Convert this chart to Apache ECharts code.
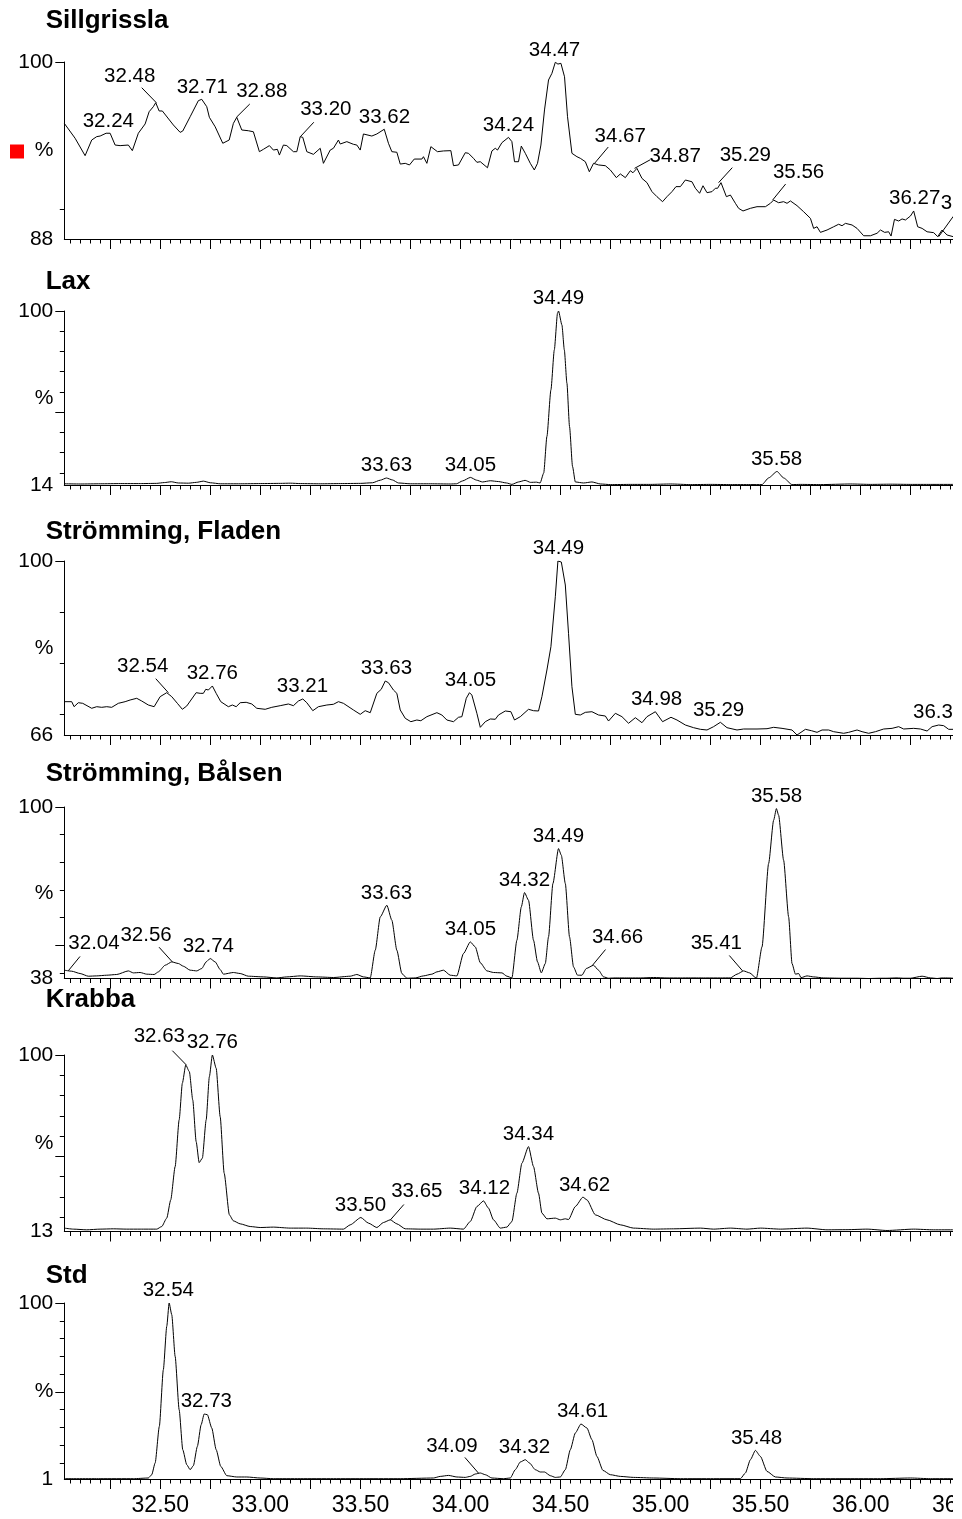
<!DOCTYPE html>
<html>
<head>
<meta charset="utf-8">
<script src="https://cdn.jsdelivr.net/npm/echarts@6.0.0/dist/echarts.min.js"></script>
<style>
html,body{margin:0;padding:0;background:#fff;}
#chart{width:962px;height:1519px;}
</style>
</head>
<body>
<div id="chart"></div>
<script>
// ---------------- DATA ----------------
const panelNames = ['Sillgrissla', 'Lax', 'Strömming, Fladen', 'Strömming, Bålsen', 'Krabba', 'Std'];
const panelMins = [88, 14, 66, 38, 13, 1];
const panelMax = 100;

const xLabelValues = [32.5, 33.0, 33.5, 34.0, 34.5, 35.0, 35.5, 36.0, 36.5];
const xTickLabels = ['32.50', '33.00', '33.50', '34.00', '34.50', '35.00', '35.50', '36.00', '36.50'];

const sillgrisslaTrace = [
[32.020,95.84],[32.074,94.83],[32.124,93.65],[32.157,94.71],[32.182,94.94],[32.199,94.98],[32.229,95.17],[32.249,95.17],[32.274,94.37],[32.299,94.33],[32.340,94.37],[32.360,93.99],[32.390,95.17],[32.424,95.80],[32.444,96.63],[32.465,96.97],[32.477,97.24],[32.494,96.68],[32.510,96.68],[32.565,95.73],[32.599,95.23],[32.612,95.32],[32.649,96.29],[32.690,97.38],[32.707,97.47],[32.732,96.97],[32.745,96.25],[32.774,95.61],[32.812,94.49],[32.844,94.71],[32.865,95.84],[32.882,96.25],[32.907,95.39],[32.940,95.34],[32.965,95.27],[32.995,93.92],[33.015,94.08],[33.045,94.33],[33.065,94.03],[33.085,94.08],[33.095,93.69],[33.115,94.37],[33.132,94.33],[33.165,93.92],[33.182,93.92],[33.199,94.94],[33.212,94.89],[33.232,93.92],[33.265,93.74],[33.299,94.15],[33.315,93.13],[33.349,94.03],[33.365,94.15],[33.390,94.71],[33.399,94.44],[33.432,94.60],[33.465,94.42],[33.482,94.37],[33.499,94.03],[33.515,95.12],[33.557,94.98],[33.582,95.12],[33.619,95.44],[33.640,94.49],[33.657,93.92],[33.682,93.88],[33.699,93.08],[33.724,93.13],[33.745,93.02],[33.769,93.42],[33.807,93.42],[33.815,93.58],[33.832,93.13],[33.852,94.26],[33.885,93.92],[33.915,93.97],[33.952,93.99],[33.965,92.97],[33.990,93.02],[34.024,93.85],[34.040,93.81],[34.065,93.47],[34.082,93.20],[34.099,93.24],[34.135,92.83],[34.157,93.97],[34.174,94.15],[34.185,94.03],[34.207,94.53],[34.240,94.89],[34.257,94.60],[34.270,93.24],[34.290,93.24],[34.304,94.30],[34.324,93.81],[34.349,93.13],[34.369,92.68],[34.385,93.13],[34.402,94.37],[34.420,96.75],[34.440,98.78],[34.457,99.23],[34.474,99.98],[34.487,99.86],[34.502,99.91],[34.520,99.00],[34.535,96.29],[34.557,93.81],[34.582,93.58],[34.599,93.47],[34.624,93.24],[34.644,92.56],[34.665,93.13],[34.690,93.02],[34.724,92.97],[34.749,92.68],[34.779,92.16],[34.799,92.41],[34.824,92.16],[34.849,92.63],[34.862,92.49],[34.882,92.79],[34.907,92.11],[34.932,91.82],[34.957,91.21],[34.982,90.87],[35.010,90.53],[35.032,90.87],[35.057,91.21],[35.077,91.55],[35.099,91.55],[35.124,92.00],[35.157,91.88],[35.174,91.44],[35.195,91.10],[35.212,91.61],[35.232,91.14],[35.257,91.21],[35.274,91.44],[35.285,91.44],[35.302,91.82],[35.329,90.87],[35.349,90.98],[35.374,90.42],[35.390,90.08],[35.412,89.90],[35.449,90.08],[35.482,90.19],[35.524,90.19],[35.549,90.42],[35.565,90.64],[35.590,90.46],[35.615,90.53],[35.632,90.42],[35.649,90.58],[35.682,90.26],[35.715,89.85],[35.749,89.40],[35.765,88.72],[35.782,88.83],[35.799,88.45],[35.832,88.61],[35.865,88.83],[35.890,89.00],[35.907,88.90],[35.924,89.06],[35.957,88.95],[35.982,88.72],[36.015,88.22],[36.049,88.22],[36.082,88.39],[36.099,88.61],[36.120,88.45],[36.140,88.49],[36.152,88.20],[36.169,89.33],[36.190,89.22],[36.207,89.36],[36.224,89.29],[36.249,89.56],[36.265,89.90],[36.285,88.83],[36.307,88.72],[36.332,88.49],[36.365,88.43],[36.385,88.16],[36.407,88.61],[36.432,88.27],[36.462,88.16]
];

const laxTrace = [
[32.020,14.6],[32.100,14.5],[32.200,14.6],[32.300,14.7],[32.400,14.7],[32.480,14.8],[32.520,15.2],[32.555,15.6],[32.590,15.0],[32.640,14.9],[32.680,15.3],[32.715,15.9],[32.750,15.1],[32.800,14.6],[32.900,14.6],[33.000,14.7],[33.100,14.8],[33.150,14.9],[33.200,14.7],[33.300,14.6],[33.400,14.7],[33.500,14.8],[33.560,15.1],[33.600,16.4],[33.630,17.45],[33.660,16.5],[33.690,15.0],[33.750,14.6],[33.850,14.6],[33.950,14.5],[33.980,14.6],[34.010,16.0],[34.050,17.75],[34.080,16.4],[34.110,15.5],[34.149,16.1],[34.190,15.7],[34.230,15.0],[34.257,14.3],[34.290,15.5],[34.323,16.3],[34.350,15.3],[34.380,15.4],[34.398,15.0],[34.416,19.9],[34.432,38.0],[34.452,61.0],[34.469,80.8],[34.485,98.9],[34.490,100],[34.507,93.1],[34.519,80.8],[34.532,64.3],[34.545,42.9],[34.560,23.2],[34.574,15.5],[34.615,15.0],[34.657,15.5],[34.700,14.5],[34.750,14.2],[34.850,14.3],[34.950,14.3],[35.050,14.5],[35.150,14.2],[35.250,14.3],[35.350,14.2],[35.450,14.2],[35.507,14.2],[35.540,17.5],[35.582,20.7],[35.615,17.5],[35.657,14.2],[35.700,14.3],[35.800,14.2],[35.950,14.5],[36.050,14.3],[36.150,14.4],[36.250,14.3],[36.350,14.3],[36.462,14.3]
];

const fladenTrace = [
[32.020,72.51],[32.057,72.51],[32.069,71.53],[32.090,72.31],[32.112,72.19],[32.157,71.22],[32.182,71.53],[32.207,71.41],[32.232,71.53],[32.257,71.41],[32.290,72.19],[32.324,72.51],[32.349,72.84],[32.382,73.17],[32.407,72.64],[32.440,71.86],[32.469,71.53],[32.499,73.49],[32.532,74.27],[32.557,73.49],[32.585,72.19],[32.610,71.02],[32.632,71.67],[32.679,74.27],[32.699,74.14],[32.715,74.14],[32.727,74.93],[32.740,74.79],[32.760,75.58],[32.779,74.14],[32.802,72.51],[32.840,71.53],[32.860,71.86],[32.879,71.53],[32.899,72.31],[32.929,72.39],[32.957,72.06],[32.982,71.22],[33.024,71.02],[33.057,71.41],[33.099,71.73],[33.140,72.06],[33.165,71.73],[33.190,72.64],[33.212,73.04],[33.232,72.31],[33.262,70.75],[33.290,71.53],[33.332,71.86],[33.365,72.00],[33.390,72.51],[33.415,72.19],[33.465,70.89],[33.499,70.04],[33.524,70.75],[33.549,70.36],[33.582,74.14],[33.604,74.93],[33.624,76.55],[33.640,76.22],[33.665,74.79],[33.682,74.14],[33.699,70.89],[33.724,69.26],[33.752,68.60],[33.782,68.93],[33.802,68.79],[33.832,69.58],[33.882,70.36],[33.907,69.91],[33.932,68.93],[33.965,68.60],[33.990,69.46],[34.007,69.58],[34.029,73.17],[34.045,74.27],[34.057,73.80],[34.082,70.24],[34.099,67.50],[34.124,68.60],[34.149,69.13],[34.174,69.07],[34.190,69.91],[34.224,70.69],[34.252,70.55],[34.270,68.93],[34.299,69.58],[34.340,71.02],[34.365,70.75],[34.390,70.69],[34.407,73.49],[34.432,78.70],[34.452,83.25],[34.474,93.02],[34.487,100],[34.504,99.80],[34.524,95.31],[34.540,85.87],[34.557,75.44],[34.574,70.04],[34.599,69.91],[34.624,70.43],[34.657,70.55],[34.690,69.91],[34.724,69.71],[34.740,68.73],[34.774,70.24],[34.807,69.58],[34.840,68.29],[34.874,69.38],[34.907,68.40],[34.932,69.58],[34.974,70.55],[35.010,68.60],[35.052,69.46],[35.082,68.93],[35.124,67.95],[35.165,67.43],[35.199,67.11],[35.232,66.98],[35.265,67.63],[35.299,68.48],[35.332,67.43],[35.382,66.98],[35.415,67.17],[35.482,67.17],[35.532,67.23],[35.565,67.50],[35.607,67.30],[35.657,66.98],[35.682,66.00],[35.724,67.11],[35.754,66.84],[35.782,66.52],[35.807,66.98],[35.840,66.98],[35.865,66.65],[35.915,66.33],[35.940,66.52],[35.982,66.98],[36.007,66.65],[36.040,66.33],[36.074,66.65],[36.115,67.17],[36.157,67.30],[36.190,67.63],[36.215,67.17],[36.265,67.30],[36.299,67.17],[36.332,66.78],[36.357,67.63],[36.390,67.95],[36.415,67.82],[36.440,67.11],[36.462,67.11]
];

const balsenTrace = [
[32.020,41.0],[32.057,40.64],[32.099,39.80],[32.140,38.83],[32.182,38.94],[32.232,39.19],[32.282,39.45],[32.340,40.75],[32.365,40.03],[32.399,40.17],[32.432,39.56],[32.469,39.45],[32.490,40.39],[32.524,42.8],[32.557,44.0],[32.590,43.42],[32.615,42.44],[32.649,41.0],[32.682,40.75],[32.707,41.61],[32.729,44.0],[32.749,45.22],[32.774,44.0],[32.799,41.25],[32.815,39.56],[32.865,40.17],[32.899,39.80],[32.940,38.83],[33.015,38.58],[33.082,38.2],[33.132,38.58],[33.199,38.94],[33.282,38.58],[33.365,38.36],[33.449,38.83],[33.482,39.45],[33.515,38.58],[33.549,38.22],[33.574,48.23],[33.599,60.26],[33.632,64.48],[33.657,59.06],[33.682,48.23],[33.707,39.8],[33.732,38.1],[33.774,38.2],[33.815,38.94],[33.857,39.56],[33.882,40.39],[33.915,41.0],[33.949,39.19],[33.982,38.94],[34.015,47.03],[34.049,51.23],[34.074,49.42],[34.099,43.7],[34.132,40.75],[34.165,40.17],[34.207,40.03],[34.232,38.83],[34.257,38.22],[34.282,51.84],[34.304,63.87],[34.320,69.07],[34.340,66.29],[34.365,51.84],[34.385,44.0],[34.404,40.03],[34.424,43.42],[34.440,53.03],[34.462,72.33],[34.490,84.97],[34.504,82.55],[34.524,72.33],[34.545,53.03],[34.565,42.2],[34.585,39.19],[34.607,39.19],[34.629,41.61],[34.665,42.8],[34.690,41.0],[34.715,38.58],[34.740,38.1],[34.765,38.2],[34.849,38.2],[34.899,38.2],[34.965,38.36],[35.032,38.2],[35.099,38.2],[35.149,38.22],[35.232,38.2],[35.299,38.2],[35.349,38.22],[35.382,39.56],[35.415,40.75],[35.445,40.03],[35.479,38.1],[35.507,49.42],[35.540,79.55],[35.565,95.19],[35.579,99.42],[35.590,97.0],[35.615,80.74],[35.640,60.26],[35.657,43.42],[35.674,39.56],[35.690,39.8],[35.702,38.3],[35.732,38.94],[35.765,38.58],[35.815,38.2],[35.899,38.1],[35.982,38.1],[36.040,38.0],[36.099,38.1],[36.132,38.1],[36.182,38.22],[36.215,38.1],[36.249,38.1],[36.307,38.83],[36.349,38.22],[36.382,38.0],[36.407,38.2],[36.440,38.2],[36.462,38.1]
];

const krabbaTrace = [
[32.020,14.67],[32.065,14.17],[32.132,13.83],[32.199,14.17],[32.265,14.32],[32.332,14.17],[32.399,14.17],[32.482,14.17],[32.507,15.45],[32.532,19.59],[32.552,28.6],[32.574,45.0],[32.594,68.0],[32.610,86.07],[32.627,95.08],[32.645,91.78],[32.662,77.84],[32.679,57.31],[32.694,46.97],[32.710,49.14],[32.729,68.0],[32.745,89.31],[32.760,100],[32.779,93.45],[32.799,69.62],[32.819,41.75],[32.845,21.22],[32.865,18.26],[32.899,16.78],[32.949,15.45],[32.999,14.96],[33.065,15.16],[33.149,14.67],[33.232,14.67],[33.315,14.32],[33.415,14.17],[33.449,16.29],[33.502,19.89],[33.540,17.13],[33.582,14.96],[33.615,17.43],[33.649,18.76],[33.682,16.78],[33.724,14.32],[33.799,14.17],[33.865,14.17],[33.949,14.67],[34.015,14.17],[34.049,17.92],[34.082,25.30],[34.115,28.1],[34.140,24.52],[34.165,18.76],[34.199,14.67],[34.232,15.16],[34.257,17.92],[34.282,31.9],[34.307,46.67],[34.340,54.85],[34.365,45.0],[34.390,31.9],[34.407,22.05],[34.432,19.25],[34.474,19.59],[34.499,18.76],[34.524,19.25],[34.540,18.9],[34.574,25.30],[34.612,29.93],[34.632,28.6],[34.674,21.22],[34.732,18.76],[34.799,16.29],[34.865,14.67],[34.965,14.17],[35.065,14.32],[35.199,14.67],[35.265,14.17],[35.349,14.67],[35.432,14.17],[35.499,14.67],[35.599,14.17],[35.732,14.67],[35.832,13.83],[35.932,13.9],[36.032,14.17],[36.132,13.5],[36.265,14.17],[36.365,13.83],[36.462,13.83]
];

const stdTrace = [
[32.020,1.17],[32.199,1.17],[32.365,1.17],[32.440,1.56],[32.457,3.42],[32.474,10.0],[32.495,30.59],[32.515,62.48],[32.532,86.84],[32.544,100],[32.557,93.42],[32.574,69.96],[32.594,39.98],[32.612,17.48],[32.632,9.04],[32.649,6.23],[32.665,8.48],[32.685,19.34],[32.704,31.54],[32.719,37.56],[32.735,37.17],[32.757,29.69],[32.779,17.48],[32.802,8.09],[32.832,2.86],[32.882,2.13],[32.932,2.13],[32.999,1.56],[33.065,1.17],[33.199,1.17],[33.365,1.17],[33.532,1.17],[33.699,1.17],[33.865,1.56],[33.899,2.46],[33.940,3.02],[33.982,2.13],[34.024,1.9],[34.049,2.46],[34.074,3.81],[34.099,4.38],[34.124,3.42],[34.157,1.56],[34.215,1.17],[34.249,1.56],[34.274,6.23],[34.299,10.56],[34.324,11.86],[34.345,10.0],[34.374,6.23],[34.399,4.94],[34.420,4.94],[34.449,2.86],[34.474,1.9],[34.499,2.13],[34.524,6.23],[34.549,17.48],[34.574,26.87],[34.602,31.94],[34.632,29.69],[34.657,23.11],[34.682,13.71],[34.712,5.84],[34.749,3.42],[34.799,2.46],[34.865,1.9],[34.965,1.56],[35.099,1.17],[35.265,1.17],[35.399,1.17],[35.424,4.38],[35.449,11.86],[35.474,17.09],[35.499,13.71],[35.532,5.28],[35.574,2.13],[35.632,1.56],[35.765,1.17],[35.932,1.17],[36.099,1.17],[36.249,1.56],[36.349,1.17],[36.462,1.17]
];

// peak annotations: [retention time, intensity]
const sillgrisslaPeaks = [[32.24,95.17],[32.48,97.24],[32.71,97.47],[32.88,96.25],[33.20,94.94],[33.62,95.44],[34.24,94.89],[34.47,99.98],[34.67,93.13],[34.87,92.79],[35.29,91.82],[35.56,90.64],[36.27,89.90],[36.39,88.16]];
const laxPeaks = [[33.63,17.45],[34.05,17.75],[34.49,100],[35.58,20.7]];
const fladenPeaks = [[32.54,74.27],[32.76,75.58],[33.21,73.04],[33.63,76.55],[34.05,74.27],[34.49,100],[34.98,70.55],[35.29,68.48],[36.39,67.95]];
const balsenPeaks = [[32.04,40.8],[32.56,44.0],[32.74,45.22],[33.63,64.48],[34.05,51.23],[34.32,69.07],[34.49,84.97],[34.66,42.8],[35.41,40.75],[35.58,99.42]];
const krabbaPeaks = [[32.63,95.08],[32.76,100],[33.50,19.89],[33.65,18.76],[34.12,28.1],[34.34,54.85],[34.62,29.93]];
const stdPeaks = [[32.54,100],[32.73,37.56],[34.09,4.3],[34.32,11.86],[34.61,31.94],[35.48,17.09]];

const traces = [sillgrisslaTrace, laxTrace, fladenTrace, balsenTrace, krabbaTrace, stdTrace];
const peaks = [sillgrisslaPeaks, laxPeaks, fladenPeaks, balsenPeaks, krabbaPeaks, stdPeaks];

// ---------------- LAYOUT / STYLE ----------------
const FONT = "'Liberation Sans', Arial, Helvetica, sans-serif";
const X_MIN = 32.02, X_MAX = 36.5;
const GRID_LEFT = 64.3, GRID_WIDTH = 896.4;
const gridTops = [62, 311, 561, 807, 1055, 1303];
const gridHeights = [177, 174, 174, 171.5, 176.5, 176];
const titleY = [21, 282, 531.5, 774, 1000, 1276];
const smoothing = [false, 0.2, false, 0.2, 0.2, 0.2];
// label offset from peak [dx, dy] and optional leader start relative to label centre [lx, ly]
const leaderLayout = {
  '0|32.48': [-26.6, -26, 12, 11],
  '0|32.88': [25.4, -26.3, -12, 13],
  '0|33.20': [25.4, -27.4, -12, 13],
  '0|34.67': [25.7, -27.3, -12, 11],
  '0|34.87': [40.7, -11.6, -25, 3],
  '0|35.29': [26.7, -27, -13, 12],
  '0|35.56': [26, -28, -13, 12],
  '0|36.39': [27.7, -33.4, -13, 13],
  '2|32.54': [-25.6, -26, 13, 12],
  '3|32.04': [25.7, -27.3, -14, 13],
  '3|32.56': [-26.3, -26.7, 13, 12],
  '3|34.66': [25, -27.7, -12, 12],
  '3|35.41': [-26.3, -27.4, 13, 12],
  '4|32.63': [-27, -28.3, 13, 14],
  '4|33.65': [26.4, -28.3, -13, 13],
  '5|34.09': [-26.6, -26.7, 13, 11]
};

const r2 = v => Math.round(v * 100) / 100;
const majorX = [];
for (let v = 32.25; v <= X_MAX + 1e-9; v += 0.25) majorX.push(r2(v));
const minorX = [];
for (let v = 32.05; v <= X_MAX + 1e-9; v += 0.05) minorX.push(r2(v));

const grids = [], xAxes = [], yAxes = [], series = [];
for (let i = 0; i < 6; i++) {
  const mn = panelMins[i];
  const mid = (mn + panelMax) / 2;
  grids.push({ left: GRID_LEFT, top: gridTops[i], width: GRID_WIDTH, height: gridHeights[i],
               containLabel: false, outerBoundsMode: 'none' });
  xAxes.push({
    gridIndex: i, type: 'value', position: 'bottom', min: X_MIN, max: X_MAX,
    axisLine: { show: true, onZero: false, lineStyle: { color: '#000', width: 1 } },
    axisTick: { show: true, inside: false, length: 10, customValues: majorX, lineStyle: { color: '#000', width: 1 } },
    axisLabel: {
      show: i === 5, customValues: xLabelValues, margin: 15, hideOverlap: false,
      fontSize: 23, fontFamily: FONT, color: '#000',
      formatter: v => { const k = xLabelValues.findIndex(t => Math.abs(t - v) < 1e-6); return k >= 0 ? xTickLabels[k] : ''; }
    },
    splitLine: { show: false }
  });
  xAxes.push({
    gridIndex: i, type: 'value', position: 'bottom', offset: 0, min: X_MIN, max: X_MAX,
    axisLine: { show: false, onZero: false },
    axisTick: { show: true, inside: false, length: 4.5, customValues: minorX, lineStyle: { color: '#000', width: 1 } },
    axisLabel: { show: false },
    splitLine: { show: false }
  });
  const majorY = [50, 100].filter(v => v > mn);
  const minorY = [10, 20, 30, 40, 60, 70, 80, 90].filter(v => v > mn);
  yAxes.push({
    gridIndex: i, type: 'value', position: 'left', min: mn, max: panelMax,
    axisLine: { show: true, onZero: false, lineStyle: { color: '#000', width: 1 } },
    axisTick: { show: true, inside: false, length: 9, customValues: majorY, lineStyle: { color: '#000', width: 1 } },
    axisLabel: {
      show: true, customValues: [mn, mid, panelMax], margin: 11,
      fontSize: 21, fontFamily: FONT, color: '#000',
      formatter: v => Math.abs(v - mid) < 1e-6 ? '%' : String(Math.round(v))
    },
    splitLine: { show: false }
  });
  yAxes.push({
    gridIndex: i, type: 'value', position: 'left', offset: 0, min: mn, max: panelMax,
    axisLine: { show: false, onZero: false },
    axisTick: { show: true, inside: false, length: 4.5, customValues: minorY, lineStyle: { color: '#000', width: 1 } },
    axisLabel: { show: false },
    splitLine: { show: false }
  });
  series.push({
    type: 'line', xAxisIndex: 2 * i, yAxisIndex: 2 * i,
    data: traces[i], showSymbol: false, symbol: 'none',
    smooth: smoothing[i], smoothMonotone: 'x',
    lineStyle: { color: '#000', width: 1 }, silent: true, clip: true
  });
  const pi = i;
  series.push({
    type: 'custom', xAxisIndex: 2 * i, yAxisIndex: 2 * i,
    data: peaks[i], clip: false, silent: true, z: 5,
    encode: { x: 0, y: 1 },
    renderItem: function (params, api) {
      const rt = api.value(0), v = api.value(1);
      const p = api.coord([rt, v]);
      const lay = leaderLayout[pi + '|' + rt.toFixed(2)];
      const dx = lay ? lay[0] : 0, dy = lay ? lay[1] : -12.3;
      const cx = p[0] + dx, cy = p[1] + dy;
      const children = [{
        type: 'text',
        style: { text: rt.toFixed(2), x: cx, y: cy, align: 'center', verticalAlign: 'middle',
                 fontSize: 20.5, fontFamily: FONT, fill: '#000' }
      }];
      if (lay) {
        children.push({ type: 'line',
          shape: { x1: cx + lay[2], y1: cy + lay[3], x2: p[0], y2: p[1] },
          style: { stroke: '#000', lineWidth: 1 } });
      }
      return { type: 'group', children: children };
    }
  });
}

const graphics = [];
for (let i = 0; i < 6; i++) {
  graphics.push({ type: 'text', x: 45.7, y: titleY[i], z: 50,
    style: { text: panelNames[i], fontSize: 26, fontWeight: 'bold', fontFamily: FONT, fill: '#000',
             align: 'left', verticalAlign: 'middle' } });
}
graphics.push({ type: 'rect', z: 50, shape: { x: 10, y: 144.5, width: 14, height: 14 }, style: { fill: '#ff0000' } });
graphics.push({ type: 'rect', z: 1000, silent: true, shape: { x: 953, y: 0, width: 20, height: 1519 }, style: { fill: '#ffffff' } });

const chart = echarts.init(document.getElementById('chart'), null, { renderer: 'canvas' });
chart.setOption({
  backgroundColor: '#fff',
  animation: false,
  grid: grids,
  xAxis: xAxes,
  yAxis: yAxes,
  series: series,
  graphic: { elements: graphics }
});
</script>
</body>
</html>
